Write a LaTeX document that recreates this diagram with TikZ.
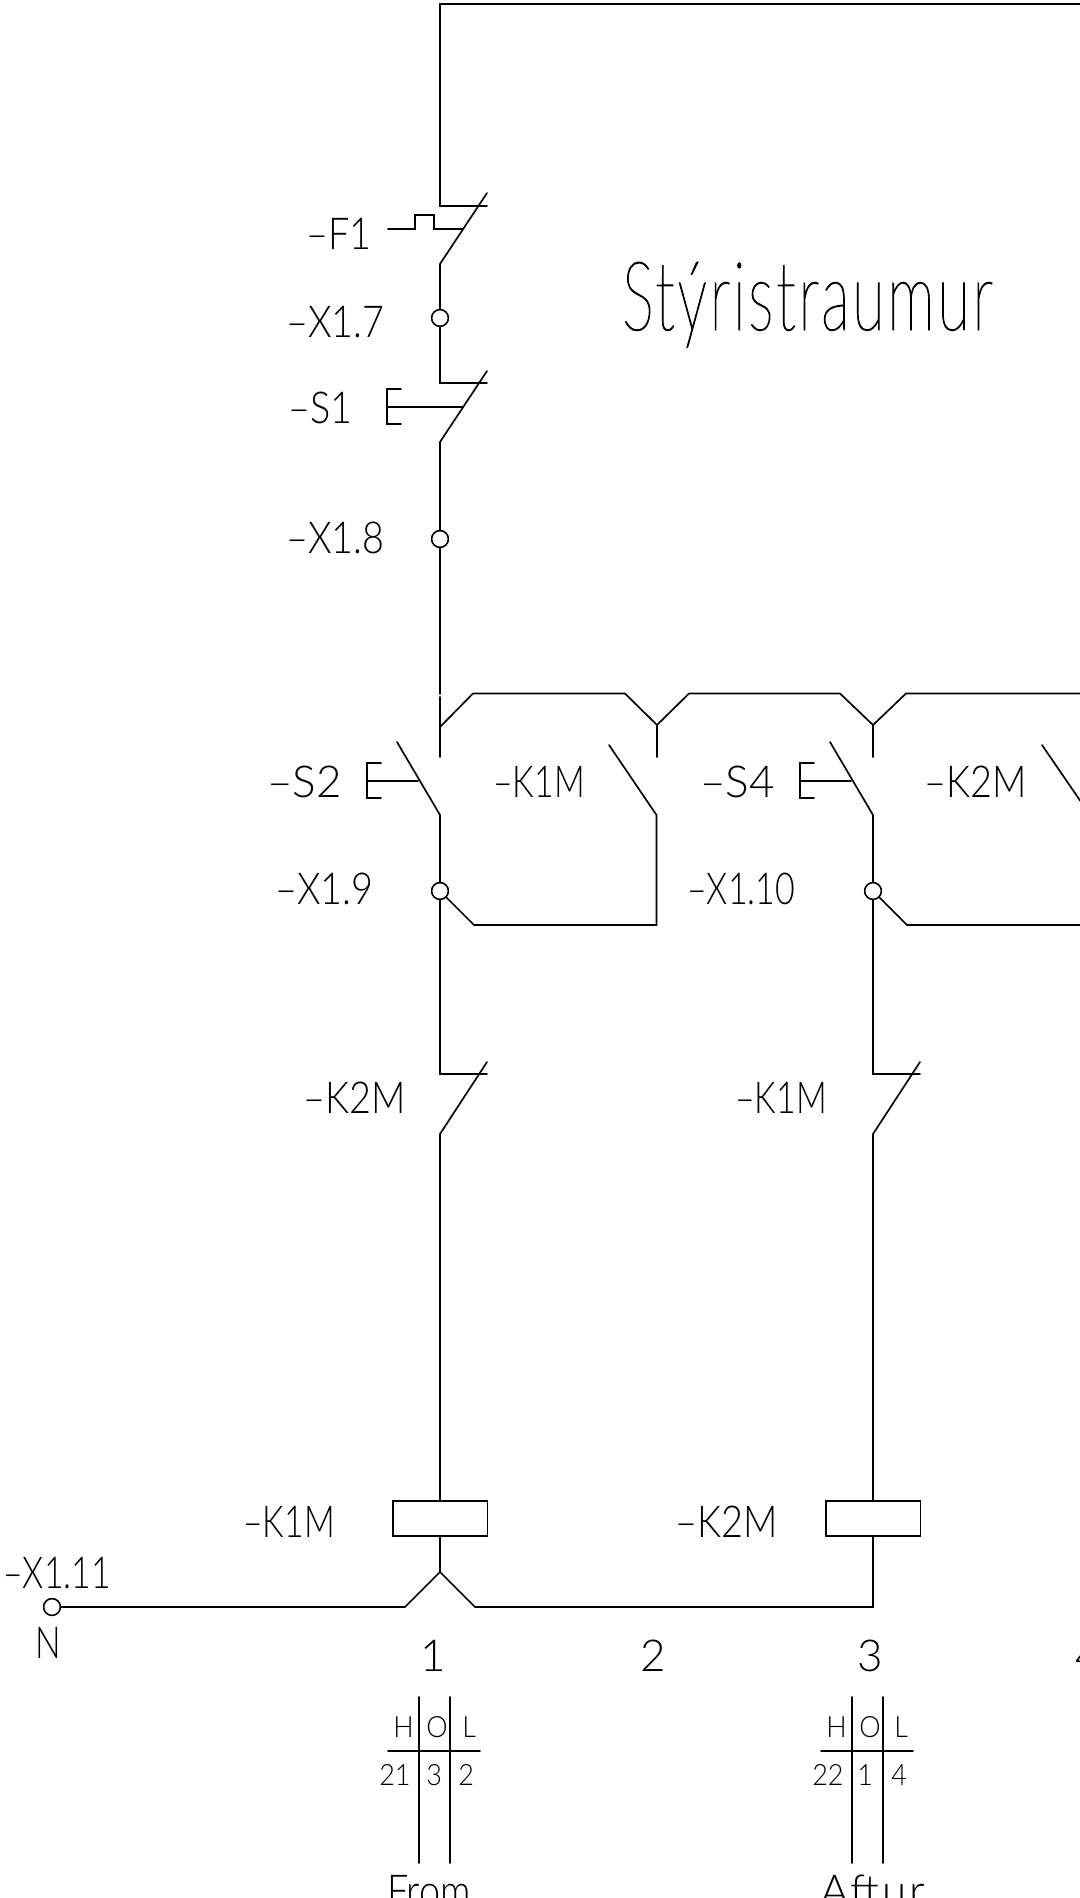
\documentclass[tikz,border=0pt]{standalone}
\usepackage{fontspec}
\newfontfamily\cadfont[FakeStretch=0.77]{Lato Light}
\newfontfamily\cadfontb[FakeStretch=0.86]{Lato Light}
\newfontfamily\cadfontc[FakeStretch=1.0]{Lato Light}
\newfontfamily\cadfontd[FakeStretch=1.0,LetterSpace=6]{Lato Light}
\newfontfamily\cadsmall[FakeStretch=0.92]{Lato Light}
\newfontfamily\cadtitle[FakeStretch=0.62,LetterSpace=3,RawFeature={embolden=1}]{Lato Thin}
\tikzset{
  wire/.style={line width=1.25pt,line cap=round,line join=miter},
  term/.style={circle,draw,line width=1.1pt,fill=white,minimum size=12.5pt,inner sep=0pt},
  coil/.style={rectangle,draw,line width=1.25pt,minimum width=71pt,minimum height=26.25pt,inner sep=0pt},
  lbl/.style={anchor=base west,inner sep=0pt,font=\cadfont\fontsize{33}{33}\selectfont},
  lblb/.style={anchor=base west,inner sep=0pt,font=\cadfontb\fontsize{33}{33}\selectfont},
  lblc/.style={anchor=base west,inner sep=0pt,font=\cadfontc\fontsize{33}{33}\selectfont},
  lbld/.style={anchor=base west,inner sep=0pt,font=\cadfontd\fontsize{33}{33}\selectfont},
  sml/.style={anchor=base west,inner sep=0pt,font=\cadsmall\fontsize{22}{22}\selectfont},
  ttl/.style={anchor=base west,inner sep=0pt,font=\cadtitle\fontsize{72}{72}\selectfont}
}
\begin{document}
\begin{tikzpicture}[x=0.75pt,y=-0.75pt]
\useasboundingbox (0,0) rectangle (1080,1898);
\clip (0,0) rectangle (1080,1898);
% terminals and coils
\node[term] (t7) at (440,318) {};
\node[term] (t8) at (440,539) {};
\node[term] (t9) at (440,891) {};
\node[term] (t10) at (873,891) {};
\node[term] (t11) at (52,1607) {};
\node[coil] (c1) at (440,1518.5) {};
\node[coil] (c2) at (873,1518.5) {};
% named points
\coordinate (topR) at (1090,4);
\coordinate (topL) at (440,4);
\coordinate (f1a) at (440,206);
\coordinate (f1b) at (487,206);
\coordinate (f1c) at (440,264);
\coordinate (f1d) at (487,193);
\coordinate (f1e) at (388,229);
\coordinate (f1f) at (415,229);
\coordinate (f1g) at (415,215);
\coordinate (f1h) at (434,215);
\coordinate (f1i) at (434,229);
\coordinate (f1j) at (463,229);
\coordinate (s1a) at (440,383);
\coordinate (s1b) at (487,383);
\coordinate (s1c) at (440,442);
\coordinate (s1d) at (487,371);
\coordinate (s1e) at (387,407);
\coordinate (s1f) at (463,407);
\coordinate (s1g) at (401,389);
\coordinate (s1h) at (387,389);
\coordinate (s1i) at (387,424);
\coordinate (s1j) at (401,424);
\coordinate (g1) at (440,694);
\coordinate (g2) at (440,697);
\coordinate (g3) at (440,757);
\coordinate (b0) at (440,727);
\coordinate (b1) at (473,693.5);
\coordinate (b2) at (625,693.5);
\coordinate (b3) at (657,725);
\coordinate (b4) at (657,757);
\coordinate (b5) at (689,693.5);
\coordinate (b6) at (840,693.5);
\coordinate (b7) at (873,725);
\coordinate (b8) at (873,757);
\coordinate (b9) at (906,693.5);
\coordinate (b10) at (1090,693.5);
\coordinate (s2a) at (397,742);
\coordinate (s2b) at (440,815);
\coordinate (s2c) at (367,781);
\coordinate (s2d) at (418,781);
\coordinate (s2e) at (381,763);
\coordinate (s2f) at (367,763);
\coordinate (s2g) at (367,798);
\coordinate (s2h) at (381,798);
\coordinate (s4a) at (830,742);
\coordinate (s4b) at (873,815);
\coordinate (s4c) at (800,781);
\coordinate (s4d) at (851,781);
\coordinate (s4e) at (814,763);
\coordinate (s4f) at (800,763);
\coordinate (s4g) at (800,798);
\coordinate (s4h) at (814,798);
\coordinate (k1a) at (609,745);
\coordinate (k1b) at (656.5,815);
\coordinate (k1c) at (656.5,925);
\coordinate (k1d) at (474,925);
\coordinate (k2a) at (1042,745);
\coordinate (k2b) at (1090,815);
\coordinate (k2d) at (907,925);
\coordinate (k2e) at (1090,925);
\coordinate (n1a) at (440,1074);
\coordinate (n1b) at (487,1074);
\coordinate (n1c) at (440,1134);
\coordinate (n1d) at (487,1062);
\coordinate (n2a) at (873,1074);
\coordinate (n2b) at (920,1074);
\coordinate (n2c) at (873,1134);
\coordinate (n2d) at (920,1062);
\coordinate (v0) at (440,1572);
\coordinate (v1) at (405,1607);
\coordinate (v2) at (475,1607);
\coordinate (v3) at (873,1607);
\coordinate (ta1) at (419,1697);
\coordinate (ta2) at (419,1863);
\coordinate (ta3) at (450,1697);
\coordinate (ta4) at (450,1863);
\coordinate (ta5) at (388,1751);
\coordinate (ta6) at (480,1751);
\coordinate (tb1) at (852,1697);
\coordinate (tb2) at (852,1863);
\coordinate (tb3) at (883,1697);
\coordinate (tb4) at (883,1863);
\coordinate (tb5) at (821,1751);
\coordinate (tb6) at (913,1751);
% wiring
\draw[wire] (topR) -- (topL) -- (f1a) -- (f1b);
\draw[wire] (f1d) -- (f1c) -- (t7);
\draw[wire] (f1e) -- (f1f) -- (f1g) -- (f1h) -- (f1i) -- (f1j);
\draw[wire] (t7) -- (s1a) -- (s1b);
\draw[wire] (s1d) -- (s1c) -- (t8);
\draw[wire] (s1e) -- (s1f);
\draw[wire] (s1g) -- (s1h) -- (s1i) -- (s1j);
\draw[wire] (t8) -- (g1);
\draw[wire] (g2) -- (g3);
\draw[wire] (b0) -- (b1) -- (b2) -- (b3) -- (b4);
\draw[wire] (b3) -- (b5) -- (b6) -- (b7) -- (b8);
\draw[wire] (b7) -- (b9) -- (b10);
\draw[wire] (s2a) -- (s2b) -- (t9);
\draw[wire] (s2c) -- (s2d);
\draw[wire] (s2e) -- (s2f) -- (s2g) -- (s2h);
\draw[wire] (s4a) -- (s4b) -- (t10);
\draw[wire] (s4c) -- (s4d);
\draw[wire] (s4e) -- (s4f) -- (s4g) -- (s4h);
\draw[wire] (k1a) -- (k1b) -- (k1c) -- (k1d) -- (t9);
\draw[wire] (k2a) -- (k2b);
\draw[wire] (t10) -- (k2d) -- (k2e);
\draw[wire] (t9) -- (n1a) -- (n1b);
\draw[wire] (n1d) -- (n1c) -- (c1);
\draw[wire] (t10) -- (n2a) -- (n2b);
\draw[wire] (n2d) -- (n2c) -- (c2);
\draw[wire] (c1) -- (v0);
\draw[wire] (t11) -- (v1) -- (v0) -- (v2) -- (v3) -- (c2);
\draw[wire] (ta1) -- (ta2);
\draw[wire] (ta3) -- (ta4);
\draw[wire] (ta5) -- (ta6);
\draw[wire] (tb1) -- (tb2);
\draw[wire] (tb3) -- (tb4);
\draw[wire] (tb5) -- (tb6);
% redraw terminals and coils above the wires
\node[term] at (t7) {};
\node[term] at (t8) {};
\node[term] at (t9) {};
\node[term] at (t10) {};
\node[term] at (t11) {};
\node[coil,fill=white] at (c1) {};
\node[coil,fill=white] at (c2) {};
% labels
\node[ttl] (title) at (622,330) {Stýristraumur};
\node[lblb] (lF1) at (306,249) {–F1};
\node[lblb] (lX7) at (286,337) {–X1.7};
\node[lblb] (lS1) at (288,423) {–S1};
\node[lblb] (lX8) at (286,553) {–X1.8};
\node[lblc] (lS2) at (267,797) {–S2};
\node[lbl] (lK1a) at (493,797) {–K1M};
\node[lblc] (lS4) at (700,797) {–S4};
\node[lblb] (lK2a) at (924,797) {–K2M};
\node[lblb] (lX9) at (275,904) {–X1.9};
\node[lbl] (lX10) at (687,904) {–X1.10};
\node[lblb] (lK2b) at (303,1113) {–K2M};
\node[lbl] (lK1b) at (735,1113) {–K1M};
\node[lbl] (lK1c) at (243,1537) {–K1M};
\node[lblb] (lK2c) at (675,1537) {–K2M};
\node[lbl] (lX11) at (3,1588) {–X1.11};
\node[lbl] (lN) at (35,1658) {N};
\node[lblc] (n1) at (420,1671) {1};
\node[lblc] (n2) at (640,1671) {2};
\node[lblc] (n3) at (857,1671) {3};
\node[lblc] (n4) at (1075,1671) {4};
\node[sml] (h1) at (393,1737) {H};
\node[sml] (o1) at (426,1737) {O};
\node[sml] (l1) at (462,1737) {L};
\node[sml] (a1) at (379,1785) {21};
\node[sml] (a2) at (426,1785) {3};
\node[sml] (a3) at (458,1785) {2};
\node[sml] (h2) at (826,1737) {H};
\node[sml] (o2) at (859,1737) {O};
\node[sml] (l2) at (894,1737) {L};
\node[sml] (b1t) at (812,1785) {22};
\node[sml] (b2t) at (857,1785) {1};
\node[sml] (b3t) at (891,1785) {4};
\node[lblb] (fr) at (387,1906) {From};
\node[lbld] (af) at (820,1906) {Aftur};
\end{tikzpicture}
\end{document}
